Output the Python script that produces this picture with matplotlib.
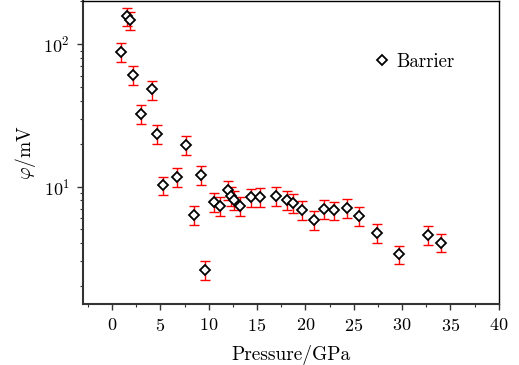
import matplotlib
matplotlib.use("Agg")
import matplotlib.pyplot as plt
from matplotlib.ticker import MultipleLocator, LogLocator, NullFormatter

# data
pressure = [0.9, 1.55, 1.9, 2.15, 3.0, 4.1, 4.6, 5.3, 6.7, 7.7, 8.5, 9.25, 9.6,
            10.5, 11.2, 12.0, 12.3, 12.65, 13.25, 14.35, 15.3, 17.0, 18.1, 18.75,
            19.6, 20.9, 21.9, 22.95, 24.35, 25.5, 27.4, 29.7, 32.65, 34.0]
phi = [88, 157, 147, 61, 32.5, 48, 23.5, 10.2, 11.7, 19.6, 6.3, 12.1, 2.6,
       7.8, 7.3, 9.5, 8.6, 8.1, 7.3, 8.4, 8.5, 8.65, 8.05, 7.7,
       6.9, 5.85, 7.0, 6.85, 7.1, 6.2, 4.75, 3.35, 4.6, 4.05]
phi_err = [13, 23, 22, 9, 4.9, 7.2, 3.5, 1.5, 1.75, 2.9, 0.95, 1.8, 0.39,
           1.2, 1.1, 1.4, 1.3, 1.2, 1.1, 1.25, 1.3, 1.3, 1.2, 1.15,
           1.05, 0.9, 1.05, 1.0, 1.05, 0.95, 0.7, 0.5, 0.7, 0.6]

plt.rcParams["font.family"] = "serif"
plt.rcParams["font.serif"] = ["cmr10", "DejaVu Serif"]
plt.rcParams["mathtext.fontset"] = "cm"
plt.rcParams["axes.formatter.use_mathtext"] = True
plt.rcParams["axes.unicode_minus"] = False

fig = plt.figure(figsize=(5.19, 3.65), dpi=100)
ax = fig.add_axes([0.160, 0.167, 0.801, 0.830])

ax.errorbar(pressure, phi, yerr=phi_err, fmt="none", ecolor="red",
            elinewidth=1.0, capsize=3.5, capthick=1.0, zorder=2)
ax.plot(pressure, phi, linestyle="none", marker="D", markersize=4.6,
        markerfacecolor="white", markeredgecolor="black", markeredgewidth=1.3,
        label="Barrier", zorder=3)

ax.set_yscale("log")
ax.set_xlim(-3, 40)
ax.set_ylim(1.5, 200)

ax.xaxis.set_major_locator(MultipleLocator(5))
ax.xaxis.set_minor_locator(MultipleLocator(2.5))
ax.yaxis.set_major_locator(LogLocator(base=10))
ax.yaxis.set_minor_locator(LogLocator(base=10, subs=range(2, 10)))
ax.yaxis.set_minor_formatter(NullFormatter())

ax.tick_params(which="both", direction="out", top=False, right=False,
               labelsize=13, color="#333333")
ax.tick_params(which="major", length=4.5, width=1.0, pad=5)
ax.tick_params(which="minor", length=2.5, width=0.8)

for side in ["left", "bottom"]:
    ax.spines[side].set_linewidth(1.5)
    ax.spines[side].set_color("#333333")
for side in ["top", "right"]:
    ax.spines[side].set_linewidth(1.0)
    ax.spines[side].set_color("black")

ax.set_xlabel("Pressure/GPa", fontsize=14, labelpad=8)
ax.set_ylabel(r"$\varphi/\mathrm{mV}$", fontsize=14, labelpad=4)

ax.legend(loc="center left", bbox_to_anchor=(0.66, 0.80), frameon=False,
          fontsize=13.5, handlelength=0.8, handletextpad=0.4, numpoints=1)

fig.savefig("out.png", dpi=100)
